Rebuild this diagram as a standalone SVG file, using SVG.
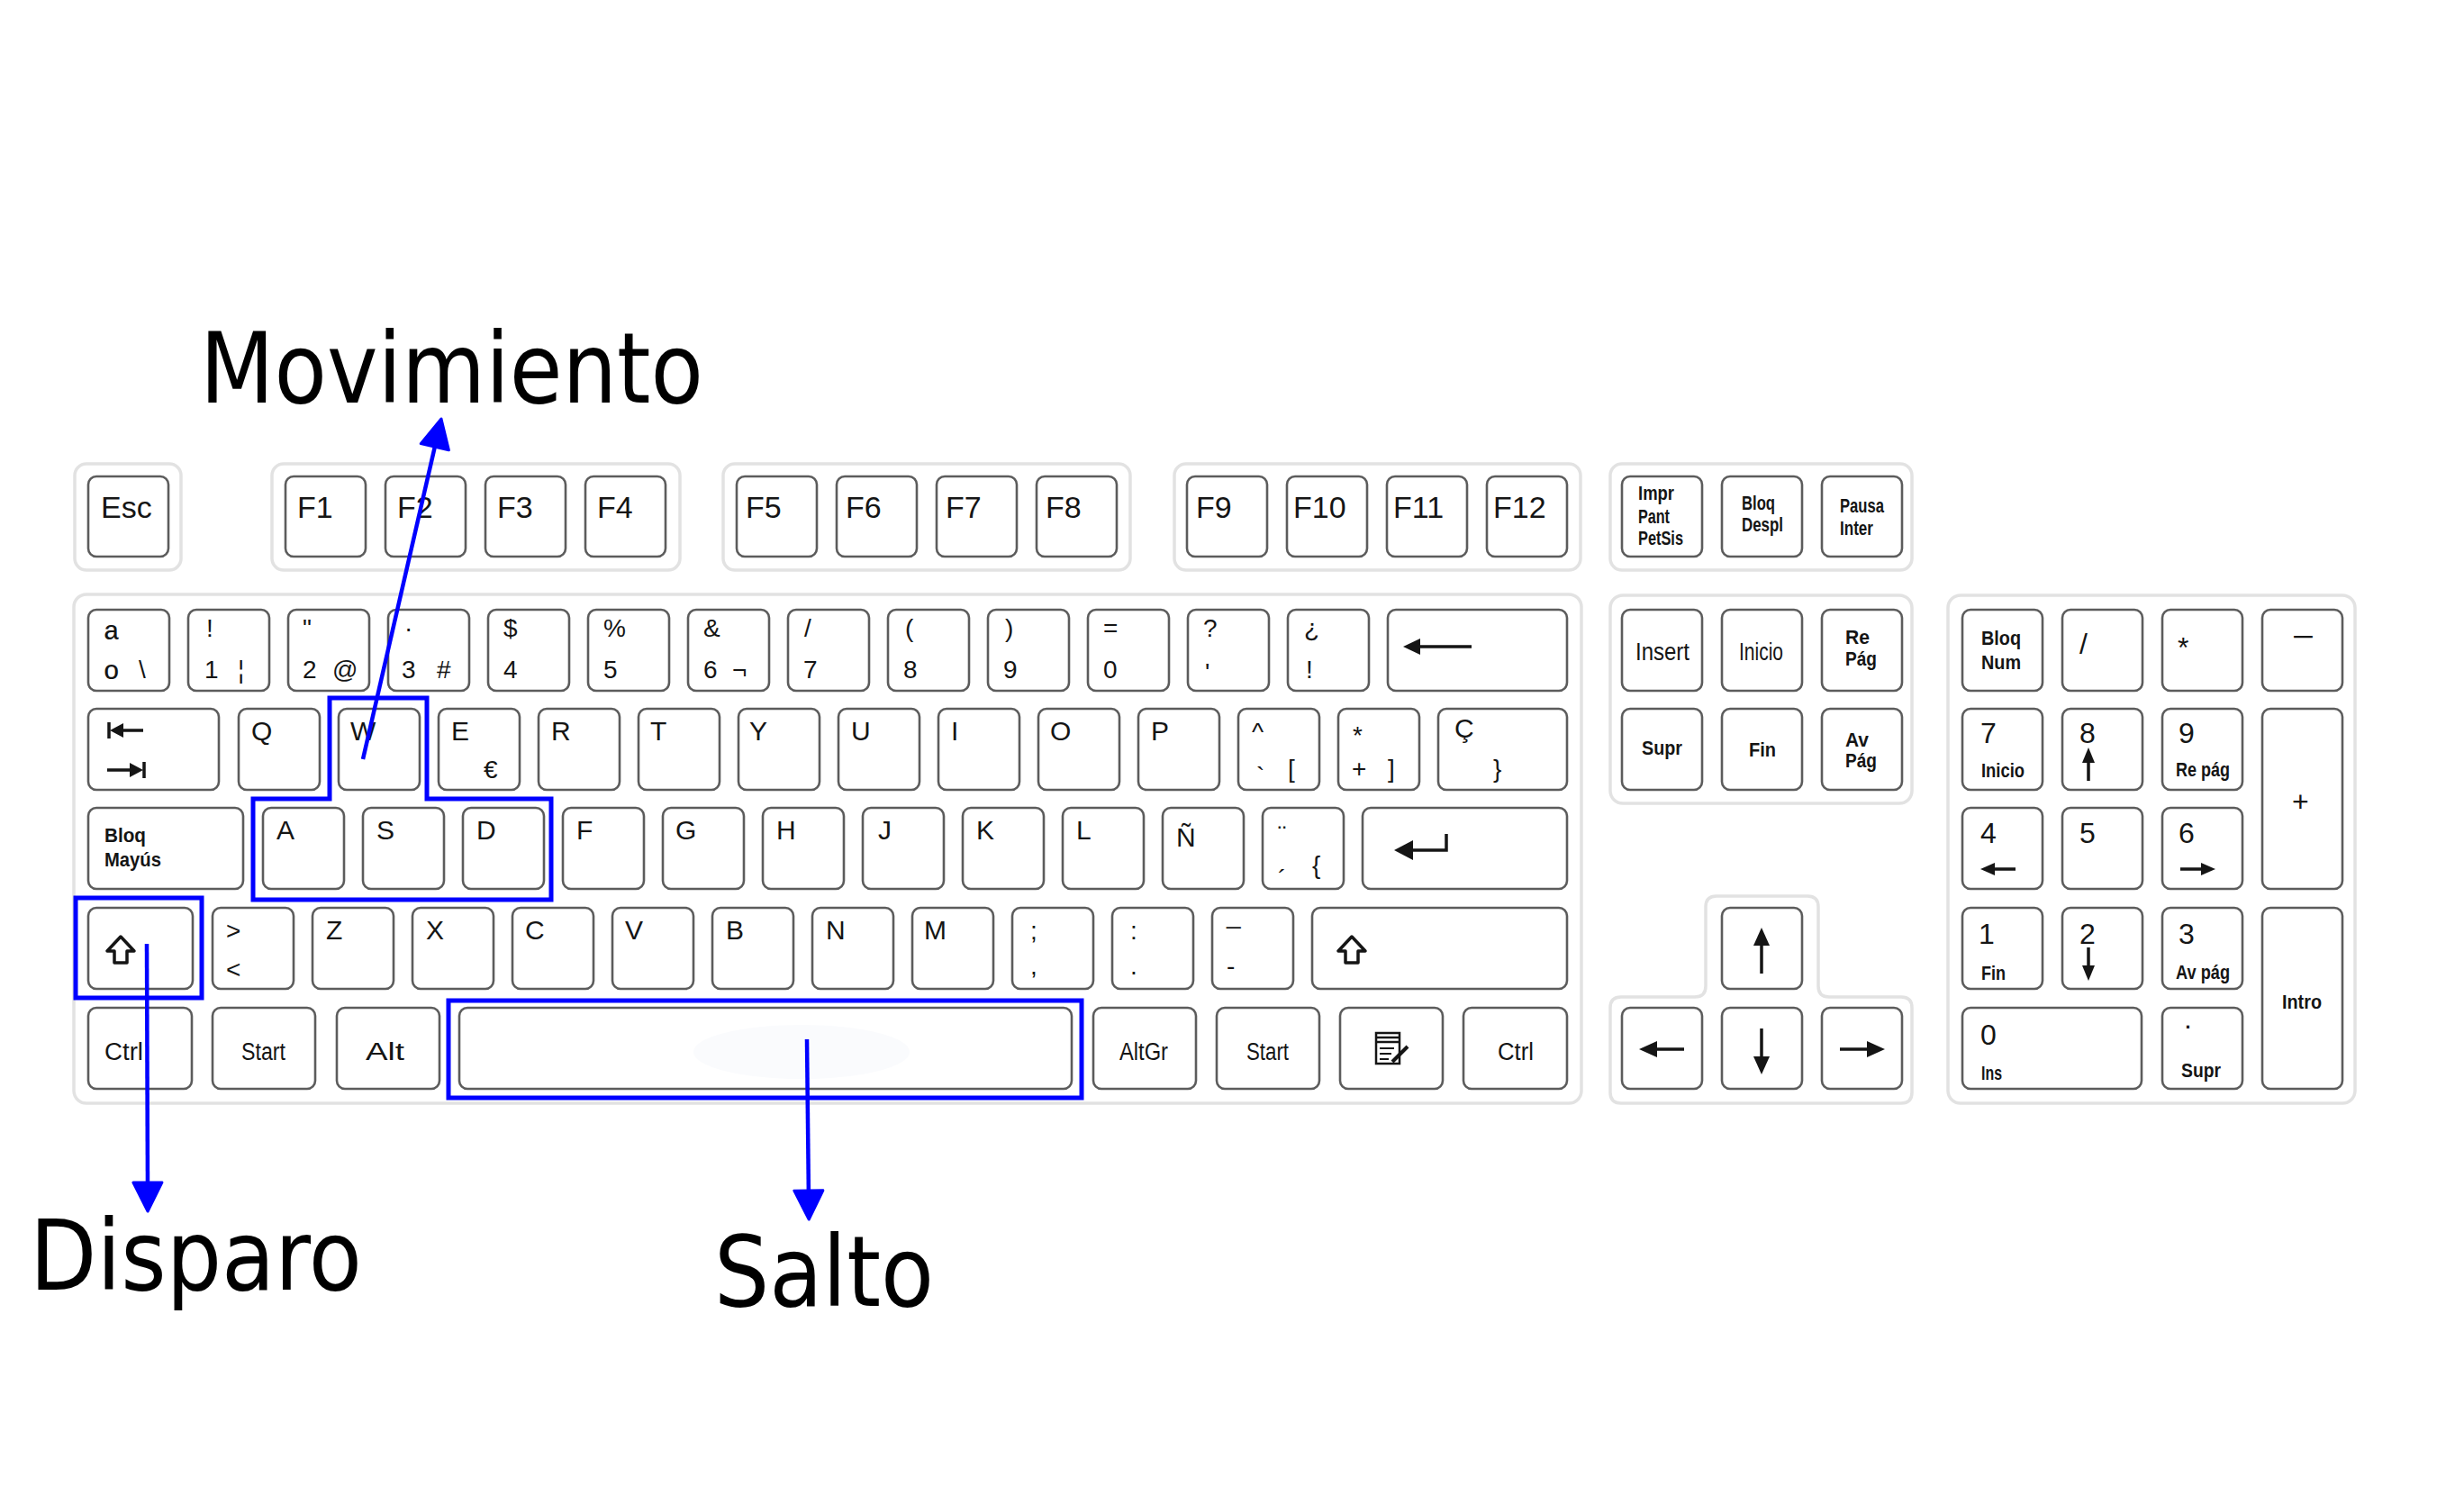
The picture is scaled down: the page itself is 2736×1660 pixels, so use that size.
<svg xmlns="http://www.w3.org/2000/svg" width="2736" height="1660" viewBox="0 0 2736 1660">
<defs>
<style>
.panel{fill:#fff;stroke:#e2e2e2;stroke-width:3.5}
.key{fill:#fff;stroke:#5c5c5c;stroke-width:2.6}
.t{font-family:"Liberation Sans",Arial,sans-serif;fill:#151515}
.l{font-size:30px}
.f{font-size:34px}
.n{font-size:28px}
.s{font-size:22px;font-weight:bold}
.m{font-size:27px}
.np{font-size:32px}
.ico{fill:none;stroke:#151515;stroke-width:3.5}
.icf{fill:#151515;stroke:none}
.hl{fill:none;stroke:#0000ff;stroke-width:5}
.con{fill:none;stroke:#0000ff;stroke-width:4.5;marker-end:url(#ah)}
.big{font-family:"DejaVu Sans","Liberation Sans",sans-serif;font-size:108px;fill:#000}
</style>
<marker id="ah" markerUnits="userSpaceOnUse" viewBox="0 0 36 36" refX="14" refY="18" markerWidth="36" markerHeight="36" orient="auto">
<path d="M2,2 L34,18 L2,34 Z" fill="#0000ff" stroke="#0000ff" stroke-width="3" stroke-linejoin="round"/>
</marker>
</defs>
<rect width="2736" height="1660" fill="#fff"/>

<g id="panels">
<rect class="panel" x="83" y="515" width="118" height="118" rx="13"/>
<rect class="panel" x="302" y="515" width="453" height="118" rx="13"/>
<rect class="panel" x="803" y="515" width="452" height="118" rx="13"/>
<rect class="panel" x="1304" y="515" width="451" height="118" rx="13"/>
<rect class="panel" x="1788" y="515" width="335" height="118" rx="13"/>
<rect class="panel" x="82" y="660" width="1674" height="565" rx="14"/>
<rect class="panel" x="1788" y="661" width="335" height="231" rx="14"/>
<path class="panel" d="M1906 995 H2007 Q2019 995 2019 1007 V1095 Q2019 1107 2031 1107 H2111 Q2123 1107 2123 1119 V1213 Q2123 1225 2111 1225 H1800 Q1788 1225 1788 1213 V1119 Q1788 1107 1800 1107 H1882 Q1894 1107 1894 1095 V1007 Q1894 995 1906 995 Z"/>
<rect class="panel" x="2163" y="661" width="452" height="564" rx="14"/>
</g>

<g id="row-function">
<g id="k-esc"><rect class="key" x="98" y="529" width="89" height="89" rx="9"/><text class="t f" x="112" y="575">Esc</text></g>
<g id="k-f1"><rect class="key" x="317" y="529" width="89" height="89" rx="9"/><text class="t f" x="330" y="575">F1</text></g>
<g id="k-f2"><rect class="key" x="428" y="529" width="89" height="89" rx="9"/><text class="t f" x="441" y="575">F2</text></g>
<g id="k-f3"><rect class="key" x="539" y="529" width="89" height="89" rx="9"/><text class="t f" x="552" y="575">F3</text></g>
<g id="k-f4"><rect class="key" x="650" y="529" width="89" height="89" rx="9"/><text class="t f" x="663" y="575">F4</text></g>
<g id="k-f5"><rect class="key" x="818" y="529" width="89" height="89" rx="9"/><text class="t f" x="828" y="575">F5</text></g>
<g id="k-f6"><rect class="key" x="929" y="529" width="89" height="89" rx="9"/><text class="t f" x="939" y="575">F6</text></g>
<g id="k-f7"><rect class="key" x="1040" y="529" width="89" height="89" rx="9"/><text class="t f" x="1050" y="575">F7</text></g>
<g id="k-f8"><rect class="key" x="1151" y="529" width="89" height="89" rx="9"/><text class="t f" x="1161" y="575">F8</text></g>
<g id="k-f9"><rect class="key" x="1318" y="529" width="89" height="89" rx="9"/><text class="t f" x="1328" y="575">F9</text></g>
<g id="k-f10"><rect class="key" x="1429" y="529" width="89" height="89" rx="9"/><text class="t f" x="1436" y="575">F10</text></g>
<g id="k-f11"><rect class="key" x="1540" y="529" width="89" height="89" rx="9"/><text class="t f" x="1547" y="575">F11</text></g>
<g id="k-f12"><rect class="key" x="1651" y="529" width="89" height="89" rx="9"/><text class="t f" x="1658" y="575">F12</text></g>
<g id="k-impr"><rect class="key" x="1801" y="529" width="89" height="89" rx="9"/><text class="t s" x="1819" y="555" textLength="40" lengthAdjust="spacingAndGlyphs">Impr</text><text class="t s" x="1819" y="581" textLength="35" lengthAdjust="spacingAndGlyphs">Pant</text><text class="t s" x="1819" y="605" textLength="50" lengthAdjust="spacingAndGlyphs">PetSis</text></g>
<g id="k-bloqdespl"><rect class="key" x="1912" y="529" width="89" height="89" rx="9"/><text class="t s" x="1934" y="566" textLength="37" lengthAdjust="spacingAndGlyphs">Bloq</text><text class="t s" x="1934" y="590" textLength="46" lengthAdjust="spacingAndGlyphs">Despl</text></g>
<g id="k-pausa"><rect class="key" x="2023" y="529" width="89" height="89" rx="9"/><text class="t s" x="2043" y="569" textLength="49" lengthAdjust="spacingAndGlyphs">Pausa</text><text class="t s" x="2043" y="594" textLength="37" lengthAdjust="spacingAndGlyphs">Inter</text></g>
</g>

<g id="row-numbers">
<g id="k-o"><rect class="key" x="98" y="677" width="90" height="90" rx="9"/><text class="t" font-size="42" x="116" y="723">ª</text><text class="t" font-size="42" x="116" y="767">º</text><text class="t n" x="154" y="753">\</text></g>
<g id="k-1"><rect class="key" x="209" y="677" width="90" height="90" rx="9"/><text class="t n" x="229" y="707">!</text><text class="t n" x="227" y="753">1</text><text class="t n" x="264" y="753">¦</text></g>
<g id="k-2"><rect class="key" x="320" y="677" width="90" height="90" rx="9"/><text class="t n" x="336" y="707">"</text><text class="t n" x="336" y="753">2</text><text class="t n" x="369" y="753">@</text></g>
<g id="k-3"><rect class="key" x="431" y="677" width="90" height="90" rx="9"/><text class="t n" x="449" y="707">·</text><text class="t n" x="446" y="753">3</text><text class="t n" x="485" y="753">#</text></g>
<g id="k-4"><rect class="key" x="542" y="677" width="90" height="90" rx="9"/><text class="t n" x="559" y="707">$</text><text class="t n" x="559" y="753">4</text></g>
<g id="k-5"><rect class="key" x="653" y="677" width="90" height="90" rx="9"/><text class="t n" x="670" y="707">%</text><text class="t n" x="670" y="753">5</text></g>
<g id="k-6"><rect class="key" x="764" y="677" width="90" height="90" rx="9"/><text class="t n" x="781" y="707">&amp;</text><text class="t n" x="781" y="753">6</text><text class="t n" x="813" y="753">¬</text></g>
<g id="k-7"><rect class="key" x="875" y="677" width="90" height="90" rx="9"/><text class="t n" x="893" y="707">/</text><text class="t n" x="892" y="753">7</text></g>
<g id="k-8"><rect class="key" x="986" y="677" width="90" height="90" rx="9"/><text class="t n" x="1005" y="707">(</text><text class="t n" x="1003" y="753">8</text></g>
<g id="k-9"><rect class="key" x="1097" y="677" width="90" height="90" rx="9"/><text class="t n" x="1116" y="707">)</text><text class="t n" x="1114" y="753">9</text></g>
<g id="k-0"><rect class="key" x="1208" y="677" width="90" height="90" rx="9"/><text class="t n" x="1225" y="707">=</text><text class="t n" x="1225" y="753">0</text></g>
<g id="k-q"><rect class="key" x="1319" y="677" width="90" height="90" rx="9"/><text class="t n" x="1336" y="707">?</text><text class="t n" x="1338" y="756">'</text></g>
<g id="k-iq"><rect class="key" x="1430" y="677" width="90" height="90" rx="9"/><text class="t n" x="1448" y="707">¿</text><text class="t n" x="1450" y="753">!</text></g>
<g id="k-back"><rect class="key" x="1541" y="677" width="199" height="90" rx="9"/><line class="ico" x1="1572" y1="718" x2="1634" y2="718"/><path class="icf" d="M1558 718 L1577 709 L1577 727 Z"/></g>
</g>

<g id="row-qwerty">
<g id="k-tab"><rect class="key" x="98" y="787" width="145" height="90" rx="9"/><line class="ico" x1="121" y1="802" x2="121" y2="820"/><line class="ico" x1="128" y1="811" x2="159" y2="811"/><path class="icf" d="M122 811 L137 803 L137 819 Z"/><line class="ico" x1="160" y1="846" x2="160" y2="864"/><line class="ico" x1="119" y1="855" x2="150" y2="855"/><path class="icf" d="M159 855 L144 847 L144 863 Z"/></g>
<g id="k-Q"><rect class="key" x="265" y="787" width="90" height="90" rx="9"/><text class="t l" x="279" y="822">Q</text></g>
<g id="k-W"><rect class="key" x="376" y="787" width="90" height="90" rx="9"/><text class="t l" x="389" y="822">W</text></g>
<g id="k-E"><rect class="key" x="487" y="787" width="90" height="90" rx="9"/><text class="t l" x="501" y="822">E</text><text class="t n" x="537" y="864">€</text></g>
<g id="k-R"><rect class="key" x="598" y="787" width="90" height="90" rx="9"/><text class="t l" x="612" y="822">R</text></g>
<g id="k-T"><rect class="key" x="709" y="787" width="90" height="90" rx="9"/><text class="t l" x="722" y="822">T</text></g>
<g id="k-Y"><rect class="key" x="820" y="787" width="90" height="90" rx="9"/><text class="t l" x="832" y="822">Y</text></g>
<g id="k-U"><rect class="key" x="931" y="787" width="90" height="90" rx="9"/><text class="t l" x="945" y="822">U</text></g>
<g id="k-I"><rect class="key" x="1042" y="787" width="90" height="90" rx="9"/><text class="t l" x="1056" y="822">I</text></g>
<g id="k-O"><rect class="key" x="1153" y="787" width="90" height="90" rx="9"/><text class="t l" x="1166" y="822">O</text></g>
<g id="k-P"><rect class="key" x="1264" y="787" width="90" height="90" rx="9"/><text class="t l" x="1278" y="822">P</text></g>
<g id="k-caret"><rect class="key" x="1375" y="787" width="90" height="90" rx="9"/><text class="t n" x="1390" y="822">^</text><text class="t n" x="1395" y="871">`</text><text class="t n" x="1430" y="863">[</text></g>
<g id="k-plus"><rect class="key" x="1486" y="787" width="90" height="90" rx="9"/><text class="t n" x="1502" y="826">*</text><text class="t n" x="1501" y="863">+</text><text class="t n" x="1541" y="863">]</text></g>
<g id="k-cced"><rect class="key" x="1597" y="787" width="143" height="90" rx="9"/><text class="t l" x="1615" y="819">Ç</text><text class="t n" x="1658" y="863">}</text></g>
</g>

<g id="row-asdf">
<g id="k-caps"><rect class="key" x="98" y="897" width="172" height="90" rx="9"/><text class="t s" x="116" y="935" textLength="46" lengthAdjust="spacingAndGlyphs">Bloq</text><text class="t s" x="116" y="962" textLength="63" lengthAdjust="spacingAndGlyphs">Mayús</text></g>
<g id="k-A"><rect class="key" x="292" y="897" width="90" height="90" rx="9"/><text class="t l" x="307" y="932">A</text></g>
<g id="k-S"><rect class="key" x="403" y="897" width="90" height="90" rx="9"/><text class="t l" x="418" y="932">S</text></g>
<g id="k-D"><rect class="key" x="514" y="897" width="90" height="90" rx="9"/><text class="t l" x="529" y="932">D</text></g>
<g id="k-F"><rect class="key" x="625" y="897" width="90" height="90" rx="9"/><text class="t l" x="640" y="932">F</text></g>
<g id="k-G"><rect class="key" x="736" y="897" width="90" height="90" rx="9"/><text class="t l" x="750" y="932">G</text></g>
<g id="k-H"><rect class="key" x="847" y="897" width="90" height="90" rx="9"/><text class="t l" x="862" y="932">H</text></g>
<g id="k-J"><rect class="key" x="958" y="897" width="90" height="90" rx="9"/><text class="t l" x="975" y="932">J</text></g>
<g id="k-K"><rect class="key" x="1069" y="897" width="90" height="90" rx="9"/><text class="t l" x="1084" y="932">K</text></g>
<g id="k-L"><rect class="key" x="1180" y="897" width="90" height="90" rx="9"/><text class="t l" x="1195" y="932">L</text></g>
<g id="k-ntilde"><rect class="key" x="1291" y="897" width="90" height="90" rx="9"/><text class="t l" x="1306" y="940">Ñ</text></g>
<g id="k-diaer"><rect class="key" x="1402" y="897" width="90" height="90" rx="9"/><text class="t n" x="1419" y="937">¨</text><text class="t n" x="1419" y="985">´</text><text class="t n" x="1457" y="970">{</text></g>
<g id="k-enter"><rect class="key" x="1513" y="897" width="227" height="90" rx="9"/><polyline class="ico" points="1606,926 1606,944 1566,944" stroke-width="4"/><path class="icf" d="M1548 944 L1569 933 L1569 955 Z"/></g>
</g>

<g id="row-zxcv">
<g id="k-lshift"><rect class="key" x="98" y="1008" width="116" height="90" rx="9"/><path class="ico" stroke-width="3" stroke-linejoin="round" d="M134 1040 L149 1056 L141 1056 L141 1069 L127 1069 L127 1056 L119 1056 Z"/></g>
<g id="k-lt"><rect class="key" x="236" y="1008" width="90" height="90" rx="9"/><text class="t n" x="251" y="1043">&gt;</text><text class="t n" x="251" y="1086">&lt;</text></g>
<g id="k-Z"><rect class="key" x="347" y="1008" width="90" height="90" rx="9"/><text class="t l" x="362" y="1043">Z</text></g>
<g id="k-X"><rect class="key" x="458" y="1008" width="90" height="90" rx="9"/><text class="t l" x="473" y="1043">X</text></g>
<g id="k-C"><rect class="key" x="569" y="1008" width="90" height="90" rx="9"/><text class="t l" x="583" y="1043">C</text></g>
<g id="k-V"><rect class="key" x="680" y="1008" width="90" height="90" rx="9"/><text class="t l" x="694" y="1043">V</text></g>
<g id="k-B"><rect class="key" x="791" y="1008" width="90" height="90" rx="9"/><text class="t l" x="806" y="1043">B</text></g>
<g id="k-N"><rect class="key" x="902" y="1008" width="90" height="90" rx="9"/><text class="t l" x="917" y="1043">N</text></g>
<g id="k-M"><rect class="key" x="1013" y="1008" width="90" height="90" rx="9"/><text class="t l" x="1026" y="1043">M</text></g>
<g id="k-semi"><rect class="key" x="1124" y="1008" width="90" height="90" rx="9"/><text class="t n" x="1144" y="1043">;</text><text class="t n" x="1144" y="1082">,</text></g>
<g id="k-colon"><rect class="key" x="1235" y="1008" width="90" height="90" rx="9"/><text class="t n" x="1255" y="1043">:</text><text class="t n" x="1255" y="1082">.</text></g>
<g id="k-minus"><rect class="key" x="1346" y="1008" width="90" height="90" rx="9"/><text class="t n" x="1362" y="1025">_</text><text class="t n" x="1362" y="1082">-</text></g>
<g id="k-rshift"><rect class="key" x="1457" y="1008" width="283" height="90" rx="9"/><path class="ico" stroke-width="3" stroke-linejoin="round" d="M1501 1040 L1516 1056 L1508 1056 L1508 1069 L1494 1069 L1494 1056 L1486 1056 Z"/></g>
</g>

<g id="row-bottom">
<g id="k-lctrl"><rect class="key" x="98" y="1119" width="115" height="90" rx="9"/><text class="t m" x="116" y="1177" textLength="43" lengthAdjust="spacingAndGlyphs">Ctrl</text></g>
<g id="k-lstart"><rect class="key" x="236" y="1119" width="114" height="90" rx="9"/><text class="t m" x="268" y="1177" textLength="49" lengthAdjust="spacingAndGlyphs">Start</text></g>
<g id="k-alt"><rect class="key" x="374" y="1119" width="114" height="90" rx="9"/><text class="t m" x="406" y="1177" textLength="43" lengthAdjust="spacingAndGlyphs">Alt</text></g>
<g id="k-space"><rect class="key" x="510" y="1119" width="680" height="90" rx="9"/><ellipse cx="890" cy="1168" rx="120" ry="30" fill="#fafbfd"/></g>
<g id="k-altgr"><rect class="key" x="1214" y="1119" width="114" height="90" rx="9"/><text class="t m" x="1243" y="1177" textLength="54" lengthAdjust="spacingAndGlyphs">AltGr</text></g>
<g id="k-rstart"><rect class="key" x="1351" y="1119" width="114" height="90" rx="9"/><text class="t m" x="1384" y="1177" textLength="47" lengthAdjust="spacingAndGlyphs">Start</text></g>
<g id="k-menu"><rect class="key" x="1488" y="1119" width="114" height="90" rx="9"/><rect x="1528" y="1147" width="26" height="34" fill="none" stroke="#151515" stroke-width="2.5"/><line x1="1528" y1="1152" x2="1554" y2="1152" stroke="#151515" stroke-width="2.5"/><line x1="1528" y1="1157" x2="1554" y2="1157" stroke="#151515" stroke-width="2.5"/><line x1="1532" y1="1164" x2="1548" y2="1164" stroke="#151515" stroke-width="2"/><line x1="1532" y1="1170" x2="1545" y2="1170" stroke="#151515" stroke-width="2"/><line x1="1532" y1="1176" x2="1542" y2="1176" stroke="#151515" stroke-width="2"/><line x1="1546" y1="1179" x2="1563" y2="1162" stroke="#151515" stroke-width="4"/></g>
<g id="k-rctrl"><rect class="key" x="1625" y="1119" width="115" height="90" rx="9"/><text class="t m" x="1663" y="1177" textLength="40" lengthAdjust="spacingAndGlyphs">Ctrl</text></g>
</g>

<g id="nav-cluster">
<g id="k-insert"><rect class="key" x="1801" y="677" width="89" height="90" rx="9"/><text class="t m" x="1816" y="733" textLength="60" lengthAdjust="spacingAndGlyphs">Insert</text></g>
<g id="k-inicio"><rect class="key" x="1912" y="677" width="89" height="90" rx="9"/><text class="t m" x="1931" y="733" textLength="49" lengthAdjust="spacingAndGlyphs">Inicio</text></g>
<g id="k-repag"><rect class="key" x="2023" y="677" width="89" height="90" rx="9"/><text class="t s" x="2049" y="715" textLength="27" lengthAdjust="spacingAndGlyphs">Re</text><text class="t s" x="2049" y="739" textLength="35" lengthAdjust="spacingAndGlyphs">Pág</text></g>
<g id="k-supr"><rect class="key" x="1801" y="787" width="89" height="90" rx="9"/><text class="t s" x="1823" y="838" textLength="45" lengthAdjust="spacingAndGlyphs">Supr</text></g>
<g id="k-fin"><rect class="key" x="1912" y="787" width="89" height="90" rx="9"/><text class="t s" x="1942" y="840" textLength="30" lengthAdjust="spacingAndGlyphs">Fin</text></g>
<g id="k-avpag"><rect class="key" x="2023" y="787" width="89" height="90" rx="9"/><text class="t s" x="2049" y="829" textLength="26" lengthAdjust="spacingAndGlyphs">Av</text><text class="t s" x="2049" y="852" textLength="35" lengthAdjust="spacingAndGlyphs">Pág</text></g>
<g id="k-up"><rect class="key" x="1912" y="1008" width="89" height="90" rx="9"/><line class="ico" x1="1956" y1="1046" x2="1956" y2="1081"/><path class="icf" d="M1956 1030 L1947 1050 L1965 1050 Z"/></g>
<g id="k-left"><rect class="key" x="1801" y="1119" width="89" height="90" rx="9"/><line class="ico" x1="1836" y1="1165" x2="1870" y2="1165"/><path class="icf" d="M1820 1165 L1840 1156 L1840 1174 Z"/></g>
<g id="k-down"><rect class="key" x="1912" y="1119" width="89" height="90" rx="9"/><line class="ico" x1="1956" y1="1142" x2="1956" y2="1177"/><path class="icf" d="M1956 1193 L1947 1173 L1965 1173 Z"/></g>
<g id="k-right"><rect class="key" x="2023" y="1119" width="89" height="90" rx="9"/><line class="ico" x1="2043" y1="1165" x2="2077" y2="1165"/><path class="icf" d="M2093 1165 L2073 1156 L2073 1174 Z"/></g>
</g>

<g id="numpad">
<g id="k-numlock"><rect class="key" x="2179" y="677" width="89" height="90" rx="9"/><text class="t s" x="2200" y="716" textLength="44" lengthAdjust="spacingAndGlyphs">Bloq</text><text class="t s" x="2200" y="743" textLength="44" lengthAdjust="spacingAndGlyphs">Num</text></g>
<g id="k-ndiv"><rect class="key" x="2290" y="677" width="89" height="90" rx="9"/><text class="t np" x="2309" y="726">/</text></g>
<g id="k-nmul"><rect class="key" x="2401" y="677" width="89" height="90" rx="9"/><text class="t np" x="2418" y="730">*</text></g>
<g id="k-nsub"><rect class="key" x="2512" y="677" width="89" height="90" rx="9"/><text class="t np" x="2545" y="718" textLength="25" lengthAdjust="spacingAndGlyphs">−</text></g>
<g id="k-n7"><rect class="key" x="2179" y="787" width="89" height="90" rx="9"/><text class="t np" x="2199" y="825">7</text><text class="t s" x="2200" y="863" textLength="48" lengthAdjust="spacingAndGlyphs">Inicio</text></g>
<g id="k-n8"><rect class="key" x="2290" y="787" width="89" height="90" rx="9"/><text class="t np" x="2309" y="825">8</text><line class="ico" x1="2319" y1="844" x2="2319" y2="867" stroke-width="3"/><path class="icf" d="M2319 830 L2312 847 L2326 847 Z"/></g>
<g id="k-n9"><rect class="key" x="2401" y="787" width="89" height="90" rx="9"/><text class="t np" x="2419" y="825">9</text><text class="t s" x="2416" y="862" textLength="60" lengthAdjust="spacingAndGlyphs">Re pág</text></g>
<g id="k-nadd"><rect class="key" x="2512" y="787" width="89" height="200" rx="9"/><text class="t np" x="2545" y="901">+</text></g>
<g id="k-n4"><rect class="key" x="2179" y="897" width="89" height="90" rx="9"/><text class="t np" x="2199" y="936">4</text><line class="ico" x1="2212" y1="965" x2="2238" y2="965" stroke-width="3"/><path class="icf" d="M2199 965 L2215 958 L2215 972 Z"/></g>
<g id="k-n5"><rect class="key" x="2290" y="897" width="89" height="90" rx="9"/><text class="t np" x="2309" y="936">5</text></g>
<g id="k-n6"><rect class="key" x="2401" y="897" width="89" height="90" rx="9"/><text class="t np" x="2419" y="936">6</text><line class="ico" x1="2421" y1="965" x2="2447" y2="965" stroke-width="3"/><path class="icf" d="M2460 965 L2444 958 L2444 972 Z"/></g>
<g id="k-n1"><rect class="key" x="2179" y="1008" width="89" height="90" rx="9"/><text class="t np" x="2197" y="1048">1</text><text class="t s" x="2200" y="1088" textLength="27" lengthAdjust="spacingAndGlyphs">Fin</text></g>
<g id="k-n2"><rect class="key" x="2290" y="1008" width="89" height="90" rx="9"/><text class="t np" x="2309" y="1048">2</text><line class="ico" x1="2319" y1="1052" x2="2319" y2="1075" stroke-width="3"/><path class="icf" d="M2319 1089 L2312 1072 L2326 1072 Z"/></g>
<g id="k-n3"><rect class="key" x="2401" y="1008" width="89" height="90" rx="9"/><text class="t np" x="2419" y="1048">3</text><text class="t s" x="2416" y="1087" textLength="60" lengthAdjust="spacingAndGlyphs">Av pág</text></g>
<g id="k-nenter"><rect class="key" x="2512" y="1008" width="89" height="201" rx="9"/><text class="t s" x="2534" y="1120" textLength="44" lengthAdjust="spacingAndGlyphs">Intro</text></g>
<g id="k-n0"><rect class="key" x="2179" y="1119" width="199" height="90" rx="9"/><text class="t np" x="2199" y="1160">0</text><text class="t s" x="2200" y="1199" textLength="23" lengthAdjust="spacingAndGlyphs">Ins</text></g>
<g id="k-ndot"><rect class="key" x="2401" y="1119" width="89" height="90" rx="9"/><text class="t np" x="2425" y="1142">.</text><text class="t s" x="2422" y="1196" textLength="44" lengthAdjust="spacingAndGlyphs">Supr</text></g>
</g>

<g id="highlights">
<polygon id="hl-wasd" class="hl" points="366,887 366,775 474,775 474,887 612,887 612,999 281,999 281,887"/>
<rect id="hl-shift" class="hl" x="84" y="997" width="140" height="111"/>
<rect id="hl-space" class="hl" x="498" y="1111" width="703" height="108"/>
</g>

<g id="connectors">
<line class="con" x1="403" y1="843" x2="485.5" y2="484.5"/>
<line class="con" x1="163" y1="1048" x2="164" y2="1325"/>
<line class="con" x1="896" y1="1154" x2="898" y2="1334"/>
</g>

<g id="labels">
<text id="lbl-movimiento" class="big" x="222" y="447" textLength="559" lengthAdjust="spacingAndGlyphs">Movimiento</text>
<text id="lbl-disparo" class="big" x="33" y="1432" textLength="369" lengthAdjust="spacingAndGlyphs">Disparo</text>
<text id="lbl-salto" class="big" x="793" y="1450" textLength="244" lengthAdjust="spacingAndGlyphs">Salto</text>
</g>
</svg>
